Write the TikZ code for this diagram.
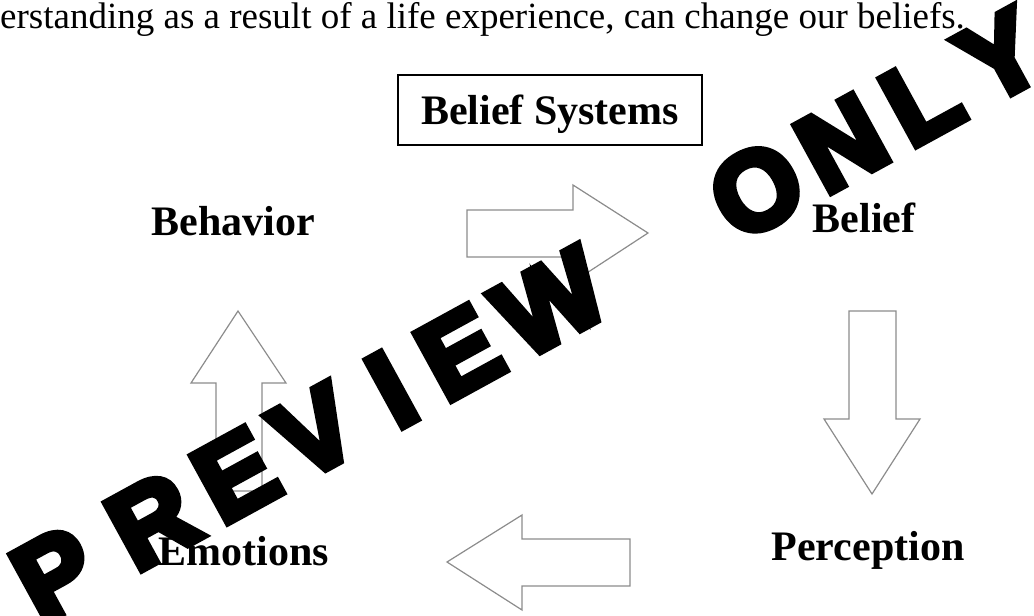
\documentclass[tikz,border=0pt]{standalone}
\usepackage{fontspec}
\setmainfont{Liberation Serif}
\newfontfamily\stampfont{Liberation Sans}[FakeBold=7]
\usetikzlibrary{positioning}

\tikzset{
  stage/.style={anchor=base, inner sep=0pt, font=\bfseries\fontsize{42}{42}\selectfont},
  blockarrow/.style={draw=black!45, fill=white, line width=1.2pt, line join=miter},
  stampletter/.style={inner sep=0pt, font=\stampfont\bfseries\fontsize{110}{110}\selectfont},
}

\begin{document}
\begin{tikzpicture}[x=1pt, y=-1pt]
    \useasboundingbox (0,0) rectangle (1034,616);

    % running text above the cycle
    \node[anchor=base west, inner sep=0pt, font=\fontsize{37}{37}\selectfont] (intro) at (0,28)
        {erstanding as a result of a life experience, can change our beliefs.};

    % title box
    \node[draw, line width=2pt, minimum width=304, minimum height=70, inner sep=0pt,
          text depth=0pt, font=\bfseries\fontsize{42}{42}\selectfont] (title) at (550,110)
        {Belief Systems\hspace{16pt}};

    % the four stages
    \node[stage] (behavior) at (233,235) {Behavior};
    \node[stage] (belief) at (864,232) {Belief};
    \node[stage] (perception) at (868,560) {Perception};
    \node[stage] (emotions) at (244,565) {Emotions};

    % block arrows going round the cycle
    % behavior -> belief
    \draw[blockarrow] (467,210) -- (573,210) -- (573,185) -- (648,233) -- (573,282) -- (573,257) -- (467,257) -- cycle;
    % belief -> perception
    \draw[blockarrow] (849,311) -- (896,311) -- (896,419) -- (920,419) -- (872,494) -- (824,419) -- (849,419) -- cycle;
    % perception -> emotions
    \draw[blockarrow] (630,539) -- (630,586) -- (522,586) -- (522,610) -- (447,562) -- (522,515) -- (522,539) -- cycle;
    % emotions -> behavior
    \draw[blockarrow] (216,491) -- (216,383) -- (191,383) -- (238,311) -- (286,383) -- (262,383) -- (262,491) -- cycle;

    % stamp across the page, one letter at a time along a slanted line
    \begin{scope}[shift={(55,574)}, rotate=28.7, transform shape]
        \foreach \ch/\s in {P/0, R/111, E/206, V/296, I/384, E/461, W/565, O/800, N/897, L/988, Y/1078}
            \node[stampletter] (stamp-\s) at (\s,0) {\ch};
    \end{scope}
\end{tikzpicture}
\end{document}
